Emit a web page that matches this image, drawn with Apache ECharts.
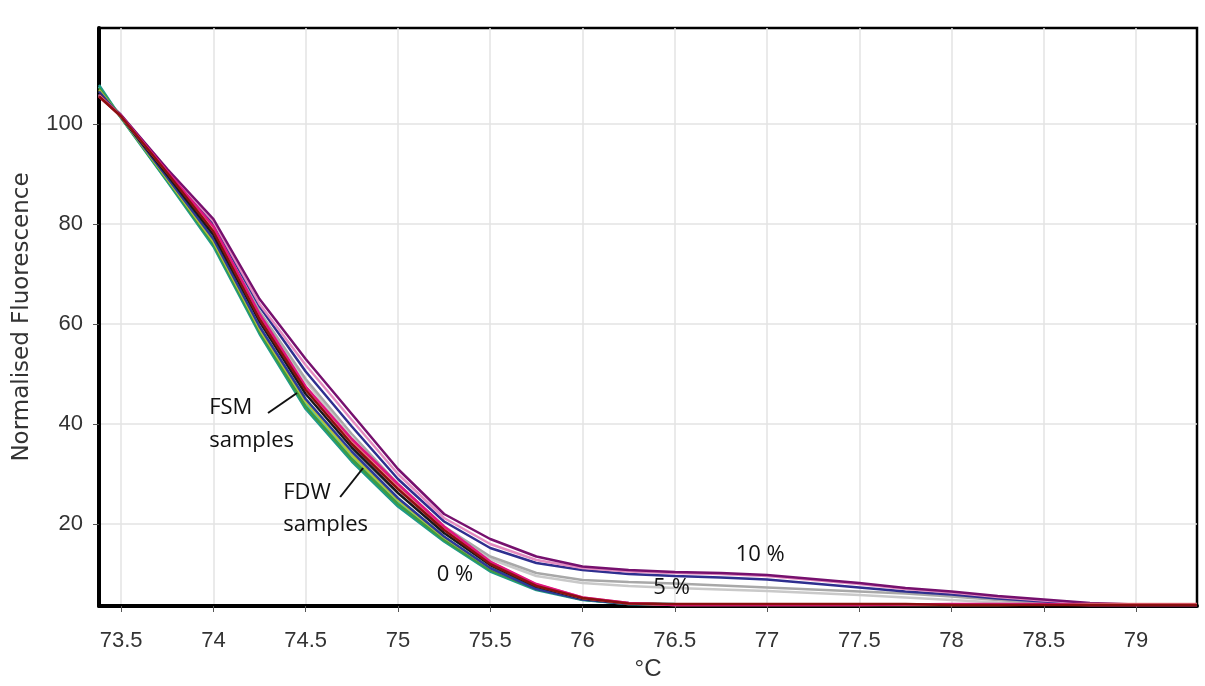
<!DOCTYPE html>
<html>
<head>
<meta charset="utf-8">
<script src="https://cdn.jsdelivr.net/npm/echarts@6/dist/echarts.min.js"></script>
<style>
html,body{margin:0;padding:0;background:#fff;}
#chart{width:1205px;height:686px;}
</style>
</head>
<body>
<div id="chart"></div>
<script>
// ---- data ----
var temperatures = [73.38, 73.5, 73.75, 74.0, 74.25, 74.5, 74.75, 75.0, 75.25, 75.5, 75.75, 76.0, 76.25, 76.5, 76.75, 77.0, 77.25, 77.5, 77.75, 78.0, 78.25, 78.5, 78.75, 79.0, 79.33];
var xTicks = [73.5, 74, 74.5, 75, 75.5, 76, 76.5, 77, 77.5, 78, 78.5, 79];
var yTicks = [20, 40, 60, 80, 100];

// 0 % group
var s0_teal    = [107.8,101.2,88.5,75.5,58.0,43.0,32.5,23.5,16.5,10.5,6.8,4.8,4.0,3.9,3.9,3.9,3.9,3.9,3.9,3.9,3.9,3.9,3.9,3.9,3.9];
var s0_green   = [107.2,101.3,88.8,76.0,58.5,43.5,33.0,24.0,16.8,10.8,7.0,4.9,4.0,3.9,3.9,3.9,3.9,3.9,3.9,3.9,3.9,3.9,3.9,3.9,3.9];
var s0_yellow  = [106.8,101.3,89.0,76.5,59.0,44.5,33.8,24.8,17.3,11.2,7.2,5.0,4.1,3.9,3.9,3.9,3.9,3.9,3.9,3.9,3.9,3.9,3.9,3.9,3.9];
var s0_navy    = [106.5,101.4,89.3,77.0,59.5,45.0,34.5,25.2,17.5,11.2,7.0,4.9,4.0,3.9,3.9,3.9,3.9,3.9,3.9,3.9,3.9,3.9,3.9,3.9,3.9];
var s0_cyan    = [107.5,101.2,88.6,76.0,58.8,44.0,33.5,24.5,17.0,11.0,7.1,5.0,4.2,4.0,3.9,3.9,3.9,3.9,3.9,3.9,3.9,3.9,3.9,3.9,3.9];
var s0_black   = [106.0,101.4,89.8,77.8,60.5,46.0,35.3,26.2,18.2,11.8,7.5,5.1,4.1,3.9,3.9,3.9,3.9,3.9,3.9,3.9,3.9,3.9,3.9,3.9,3.9];
var s0_darkred = [105.5,101.5,90.2,78.5,61.0,46.8,36.0,27.0,18.8,12.0,7.6,5.2,4.1,4.0,4.0,4.0,4.0,4.0,4.0,3.8,3.8,3.8,3.8,3.8,3.8];
var s0_pink    = [105.8,101.5,90.4,79.0,61.5,47.2,36.6,27.6,19.3,12.4,7.9,5.3,4.2,3.9,3.9,3.9,3.9,3.9,3.9,3.9,3.9,3.9,3.8,3.8,3.8];
var s0_magenta = [105.5,101.6,90.5,79.5,62.0,47.5,37.0,28.0,19.5,12.5,8.0,5.3,4.2,3.8,3.8,3.8,3.8,3.8,3.9,4.0,4.0,4.0,3.8,3.8,3.8];
var s0_salmon  = [105.6,101.5,90.3,78.8,61.2,47.0,36.3,27.3,19.0,12.2,7.7,5.2,4.1,3.8,3.8,3.8,3.8,3.8,3.8,3.8,3.8,3.9,4.0,4.0,4.0];

// 5 % group
var s5_gray    = [106.0,101.5,90.0,79.0,62.5,49.0,38.0,28.0,19.5,13.5,10.2,8.8,8.4,8.1,7.7,7.3,6.9,6.5,6.1,5.5,4.8,4.2,3.9,3.9,3.9];
var s5_light   = [106.0,101.5,90.0,78.5,62.0,48.5,37.2,27.4,19.0,13.0,9.6,8.2,7.6,7.2,6.9,6.6,6.2,5.8,5.3,4.8,4.3,4.0,3.9,3.9,3.9];

// 10 % group
var s10_purple  = [106.0,101.8,91.0,81.0,65.0,53.0,42.0,31.0,22.0,17.0,13.5,11.5,10.8,10.4,10.2,9.8,9.0,8.2,7.2,6.5,5.6,4.9,4.2,3.9,3.9];
var s10_pink    = [106.0,101.7,90.8,80.5,64.0,51.8,40.8,30.0,21.2,16.0,12.8,11.2,10.5,10.2,10.0,9.6,8.8,8.0,7.0,6.3,5.4,4.7,4.1,3.9,3.9];
var s10_navy    = [106.0,101.6,90.5,80.0,63.5,50.5,39.5,29.0,20.5,15.2,12.2,10.8,10.0,9.6,9.3,8.9,8.1,7.3,6.5,5.9,5.1,4.5,4.0,3.9,3.9];

// annotations: text and data-space anchor (left edge, vertical middle)
var notes = [
  {text: 'FSM', x: 73.977, y: 43.2},
  {text: 'samples', x: 73.977, y: 36.6},
  {text: 'FDW', x: 74.378, y: 26.2},
  {text: 'samples', x: 74.378, y: 19.8},
  {text: '0 %', x: 75.21, y: 9.8},
  {text: '5 %', x: 76.384, y: 7.2},
  {text: '10 %', x: 76.83, y: 13.8}
];
var pointers = [
  [[74.296, 42.2], [74.453, 46.2]],
  [[74.687, 25.4], [74.811, 31.2]]
];

function pairs(ys) {
  var out = [];
  for (var i = 0; i < temperatures.length; i++) out.push([temperatures[i], ys[i]]);
  return out;
}

var seriesDefs = [
  {d: s5_light,   c: '#c9c9c9'},
  {d: s5_gray,    c: '#a8a8a8'},
  {d: s10_navy,   c: '#2e2f8f'},
  {d: s10_pink,   c: '#e48cc0'},
  {d: s10_purple, c: '#76106e'},
  {d: s0_cyan,    c: '#3cc8c0'},
  {d: s0_teal,    c: '#1f9a8a'},
  {d: s0_green,   c: '#3f9b3f'},
  {d: s0_yellow,  c: '#b4c43a'},
  {d: s0_navy,    c: '#2b3a9a'},
  {d: s0_black,   c: '#1a1a1a'},
  {d: s0_pink,    c: '#e0609a'},
  {d: s0_salmon,  c: '#ef8a80'},
  {d: s0_magenta, c: '#e0157f'},
  {d: s0_darkred, c: '#8b1010'}
];

var series = seriesDefs.map(function (s) {
  return {
    type: 'line',
    data: pairs(s.d),
    showSymbol: false,
    symbol: 'none',
    smooth: false,
    lineStyle: {color: s.c, width: 2.5},
    animation: false,
    silent: true
  };
});

var chart = echarts.init(document.getElementById('chart'), null, {renderer: 'canvas'});
chart.setOption({
  backgroundColor: '#ffffff',
  animation: false,
  grid: {left: 99, right: 8, top: 28, bottom: 80, show: true, borderColor: '#000', borderWidth: 2.5, containLabel: false},
  xAxis: {
    type: 'value', min: 73.38, max: 79.33,
    name: '°C', nameLocation: 'middle', nameGap: 48,
    nameTextStyle: {fontFamily: 'Liberation Sans', fontSize: 24, color: '#333'},
    axisLine: {show: true, onZero: false, lineStyle: {color: '#000', width: 4}},
    axisTick: {show: true, length: 6, inside: false, customValues: xTicks, lineStyle: {color: '#555', width: 1}},
    axisLabel: {customValues: xTicks, margin: 24, fontFamily: 'Liberation Sans', fontSize: 22, color: '#333', formatter: function (v) { return String(v); }},
    splitLine: {show: true, lineStyle: {color: '#e3e3e3', width: 1.5}}
  },
  yAxis: {
    type: 'value', min: 3.6, max: 119.2,
    name: 'Normalised Fluorescence', nameLocation: 'middle', nameGap: 65, nameRotate: 90,
    nameTextStyle: {fontFamily: 'DejaVu Sans', fontSize: 23, color: '#333'},
    axisLine: {show: true, onZero: false, lineStyle: {color: '#000', width: 4}},
    axisTick: {show: true, length: 6, inside: false, customValues: yTicks, lineStyle: {color: '#555', width: 1}},
    axisLabel: {customValues: yTicks, margin: 16, fontFamily: 'Liberation Sans', fontSize: 22, color: '#333'},
    splitLine: {show: true, lineStyle: {color: '#e3e3e3', width: 1.5}}
  },
  series: series
});

var graphics = [];
notes.forEach(function (n) {
  var p = chart.convertToPixel({gridIndex: 0}, [n.x, n.y]);
  graphics.push({
    type: 'text', x: p[0], y: p[1], silent: true, z: 100,
    style: {text: n.text, fill: '#111', font: '22px "Open Sans", "Noto Sans", sans-serif', textAlign: 'left', textVerticalAlign: 'middle'}
  });
});
pointers.forEach(function (pt) {
  var a = chart.convertToPixel({gridIndex: 0}, pt[0]);
  var b = chart.convertToPixel({gridIndex: 0}, pt[1]);
  graphics.push({
    type: 'line', silent: true, z: 100,
    shape: {x1: a[0], y1: a[1], x2: b[0], y2: b[1]},
    style: {stroke: '#111', lineWidth: 2}
  });
});
chart.setOption({graphic: graphics});
</script>
</body>
</html>
